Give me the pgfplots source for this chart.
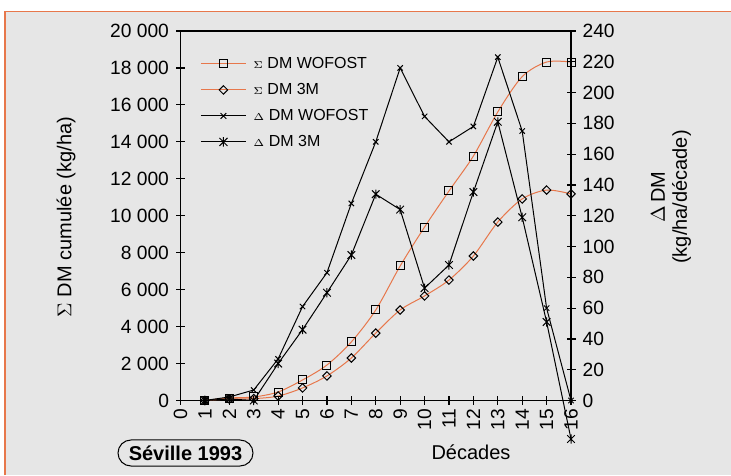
\documentclass[border=0pt]{standalone}
\usepackage{pgfplots}
\pgfplotsset{compat=1.18}
\usepackage{fontspec}
\setmainfont{Liberation Sans}
\definecolor{bg}{RGB}{230,230,230}
\definecolor{org}{RGB}{231,119,75}
\pgfdeclareplotmark{xstar}{%
 \pgfpathmoveto{\pgfqpoint{-\pgfplotmarksize}{-\pgfplotmarksize}}%
 \pgfpathlineto{\pgfqpoint{\pgfplotmarksize}{\pgfplotmarksize}}%
 \pgfpathmoveto{\pgfqpoint{-\pgfplotmarksize}{\pgfplotmarksize}}%
 \pgfpathlineto{\pgfqpoint{\pgfplotmarksize}{-\pgfplotmarksize}}%
 \pgfpathmoveto{\pgfqpoint{0pt}{-1.2\pgfplotmarksize}}%
 \pgfpathlineto{\pgfqpoint{0pt}{1.2\pgfplotmarksize}}%
 \pgfusepathqstroke}
\pgfplotsset{
  common/.style={
    at={(90.25pt,37.25pt)}, anchor=south west, scale only axis,
    width=195.25pt, height=184.75pt,
    xmin=0, xmax=16, clip=false,
    tick align=center, major tick length=4.5pt,
    tick style={black, line width=0.6pt},
    axis line style={black, line width=0.7pt},
    tick label style={font=\fontsize{9.6}{11}\selectfont},
    /pgf/number format/assume math mode=true,
    scaled y ticks=false,
  }
}
\begin{document}
\begin{tikzpicture}
\useasboundingbox (0pt,0pt) rectangle (365.5pt,237.5pt);
\fill[white] (0pt,0pt) rectangle (365.5pt,237.5pt);
\fill[bg] (2.5pt,0pt) rectangle (365.5pt,231.75pt);
\draw[org, line width=0.8pt] (2.5pt,0pt) -- (2.5pt,231.75pt) -- (365.5pt,231.75pt);

\begin{axis}[common,
  ymin=0, ymax=20000,
  xtick={0,...,16}, xtick pos=left, ytick pos=left,
  ytick={0,2000,...,20000},
  yticklabels={0,2 000,4 000,6 000,8 000,10 000,12 000,14 000,16 000,18 000,20 000},
  xticklabel style={rotate=90, anchor=east, xshift=1.5pt},
  legend style={at={(rel axis cs:0.05,0.935)}, anchor=north west, draw=none, fill=none,
    font=\fontsize{8}{9}\selectfont, row sep=4.5pt, column sep=3pt, inner sep=0pt,
    nodes={inner sep=0.5pt, text height=6pt, text depth=1.5pt}},
  legend cell align=left,
  legend image code/.code={\draw[mark repeat=2, mark phase=2, #1] plot coordinates {(0pt,0pt) (11.25pt,0pt) (22.5pt,0pt)};},
]
\addplot[org, line width=0.5pt, smooth, mark=square, mark size=2pt, mark options={draw=black, line width=0.5pt}] coordinates {
(1,0) (2,135) (3,190) (4,460) (5,1110) (6,1920) (7,3170) (8,4900) (9,7280) (10,9390) (11,11340) (12,13230) (13,15620) (14,17530) (15,18320) (16,18320)};
\addlegendentry{{\fontsize{5.5}{6}\selectfont$\Sigma$} DM WOFOST}
\addplot[org, line width=0.5pt, smooth, mark=square, mark size=1.5pt, mark options={draw=black, line width=0.5pt, rotate=45}] coordinates {
(1,0) (2,80) (3,100) (4,240) (5,680) (6,1330) (7,2300) (8,3650) (9,4900) (10,5660) (11,6520) (12,7820) (13,9660) (14,10910) (15,11390) (16,11180)};
\addlegendentry{{\fontsize{5.5}{6}\selectfont$\Sigma$} DM 3M}
\addlegendimage{black, line width=0.5pt, mark=x, mark size=2pt}
\addlegendentry{{\fontsize{5.5}{6}\selectfont$\Delta$} DM WOFOST}
\addlegendimage{black, line width=0.5pt, mark=xstar, mark size=2pt}
\addlegendentry{{\fontsize{5.5}{6}\selectfont$\Delta$} DM 3M}
\end{axis}

\begin{axis}[common,
  ymin=0, ymax=240,
  axis x line=none, axis y line*=right,
  ytick={0,20,...,240},
  yticklabel style={anchor=west},
]
\addplot[black, line width=0.5pt, mark=x, mark size=1.9pt] coordinates {
(1,0) (2,2.3) (3,6.8) (4,27) (5,61) (6,83) (7,128) (8,168) (9,216) (10,184.5) (11,168) (12,178) (13,223) (14,175) (15,60) (16,0)};
\addplot[black, line width=0.5pt, mark=xstar, mark size=1.9pt] coordinates {
(1,0) (2,1) (3,0) (4,24) (5,46) (6,70) (7,94.5) (8,134) (9,124) (10,73) (11,88) (12,135.4) (13,181) (14,119) (15,51) (16,-25)};
\end{axis}

\node[rotate=90, font=\fontsize{10}{12}\selectfont] at (33pt,129pt) {$\Sigma$ DM cumulée (kg/ha)};
\node[rotate=90, align=center, font=\fontsize{10}{11}\selectfont] at (335.5pt,139pt) {$\Delta$\,DM\\(kg/ha/décade)};
\node[font=\fontsize{10}{12}\selectfont] at (235.5pt,11.5pt) {Décades};
\node[draw, line width=0.5pt, rounded corners=6.5pt, minimum width=67.5pt, minimum height=13pt, inner sep=0pt, font=\bfseries\fontsize{10}{12}\selectfont] at (92.75pt,11pt) {Séville 1993};
\end{tikzpicture}
\end{document}
